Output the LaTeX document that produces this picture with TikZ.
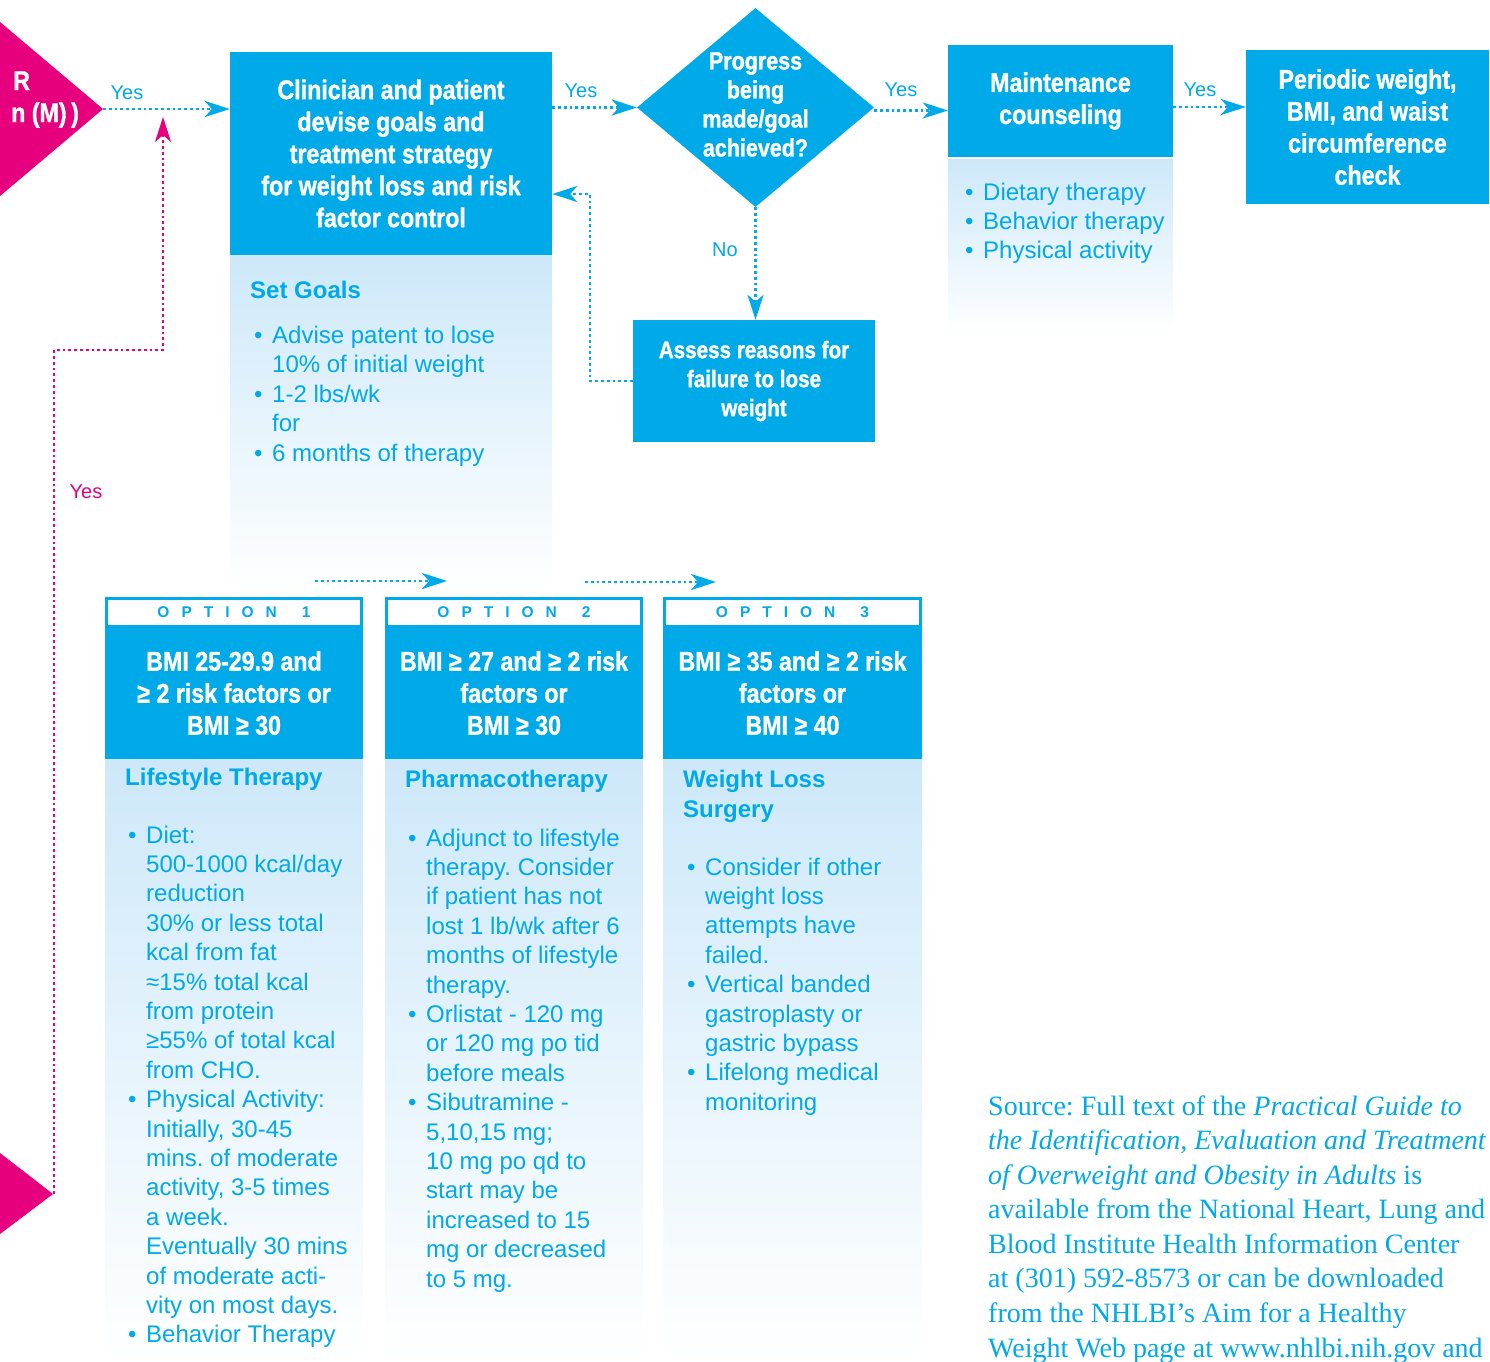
\documentclass[tikz,border=0pt]{standalone}
\usepackage{fontspec}
\setmainfont{Liberation Sans}
\newfontfamily\cond[FakeStretch=0.86,BoldFeatures={FakeBold=1.2}]{Liberation Sans}
\newfontfamily\srcfont{Liberation Serif}
\usetikzlibrary{arrows.meta,shapes.geometric}
\definecolor{cblue}{RGB}{0,169,231}
\definecolor{cpink}{RGB}{230,0,126}
\definecolor{cpanel}{RGB}{205,232,249}
\newcommand{\bul}{\makebox[18pt][l]{•}}
\newcommand{\indd}{\hspace*{18pt}}
\newcommand{\optlab}[1]{O\kern12pt P\kern12pt T\kern12pt I\kern12pt O\kern12pt N\kern25pt #1}
\frenchspacing
\begin{document}
\begin{tikzpicture}[x=1pt,y=-1pt,
  bluebox/.style={fill=cblue, inner sep=0pt, text=white, align=center, font=\cond\bfseries\fontsize{27}{32}\selectfont},
  flow/.style={draw=cblue, line width=2.8pt, dash pattern=on 2.8pt off 3pt, -{Stealth[length=25pt,width=16pt,inset=7pt]}},
  pinkflow/.style={flow, draw=cpink},
  lbl/.style={text=cblue, font=\fontsize{20}{23}\selectfont, inner sep=0pt},
  body/.style={text=cblue, font=\fontsize{24}{29.4}\selectfont, align=left, inner sep=0pt, anchor=base west},
  ttl/.style={body, font=\bfseries\fontsize{24}{30}\selectfont},
  panel/.style={top color=cpanel, bottom color=white},
  hdr/.style={draw=cblue, line width=3pt, fill=white, inner sep=0pt, text=cblue, font=\bfseries\fontsize{15.5}{18}\selectfont}
]
\useasboundingbox (0,0) rectangle (1490,1361);

% panels
\shade[panel] (230,255) rectangle (552,590);
\shade[panel] (948,159) rectangle (1173,335);
\shade[panel] (105,757) rectangle (363,1361);
\shade[panel] (385,757) rectangle (643,1361);
\shade[panel] (663,757) rectangle (922,1361);

% pink triangles
\fill[cpink] (0,22) -- (103,109) -- (0,196) -- cycle;
\coordinate (tri1) at (103,109);
\fill[cpink] (0,1153) -- (53,1194) -- (0,1234) -- cycle;
\coordinate (tri2) at (54,1194);
\node[anchor=base west, inner sep=0pt, text=white, font=\cond\bfseries\fontsize{27}{32}\selectfont] (tR) at (13,90) {R};
\node[anchor=base west, inner sep=0pt, text=white, font=\cond\bfseries\fontsize{27}{32}\selectfont] (tM) at (11,122) {n (M)\,)};

% top boxes
\node[bluebox, minimum width=322pt, minimum height=203pt] (box1) at (391,153.5)
  {Clinician and patient\\devise goals and\\treatment strategy\\for weight loss and risk\\factor control};
\node[diamond, fill=cblue, minimum width=237pt, minimum height=199pt, inner sep=0pt] (dia) at (755.5,107.5) {};
\node[text=white, align=center, inner sep=0pt, font=\cond\bfseries\fontsize{25}{29}\selectfont] (diat) at (755.5,104.5)
  {Progress\\being\\made/goal\\achieved?};
\node[bluebox, minimum width=225pt, minimum height=112pt] (maint) at (1060.5,101) {Maintenance\\counseling};
\node[bluebox, minimum width=243pt, minimum height=154pt] (per) at (1367.5,127)
  {Periodic weight,\\BMI, and waist\\circumference\\check};
\node[bluebox, minimum width=242pt, minimum height=122pt, font=\cond\bfseries\fontsize{24}{29}\selectfont] (assess) at (754,381)
  {Assess reasons for\\failure to lose\\weight};

% top connectors
\draw[flow] (tri1) -- (tri1 -| box1.west);
\node[lbl] (y1) at (127,93) {Yes};
\draw[flow] (box1.east |- dia.west) -- (dia.west);
\node[lbl] (y2) at (581,91) {Yes};
\draw[flow] ([yshift=-3pt]dia.east) -- ([yshift=-3pt]dia.east -| maint.west);
\node[lbl] (y3) at (901,90) {Yes};
\draw[flow] ([yshift=-6pt]maint.east) -- ([yshift=-6pt]maint.east -| per.west);
\node[lbl] (y4) at (1200,90) {Yes};
\draw[flow] (dia.south) -- (dia.south |- assess.north);
\node[lbl] (n1) at (725,250) {No};
\draw[flow] (assess.west) -- (590,381) |- ([yshift=-40.5pt]box1.east);

% pink connector
\draw[pinkflow] (tri2) |- (163,350) -- (163,117);
\node[lbl, text=cpink] (y5) at (86,492) {Yes};

% set goals panel text
\node[ttl] (sg) at (250,298) {Set Goals};
\node[body] (sgl) at (254,461) {\bul Advise patent to lose\\\indd 10\% of initial weight\\\bul 1-2 lbs/wk\\\indd for\\\bul 6 months of therapy};
\node[body] (mtl) at (965,258.8) {\bul Dietary therapy\\\bul Behavior therapy\\\bul Physical activity};

% option arrows
\coordinate (a1s) at (315,581);
\coordinate (a1e) at (447,581);
\coordinate (a2s) at (585,582);
\coordinate (a2e) at (716,582);
\draw[flow] (a1s) -- (a1e);
\draw[flow] (a2s) -- (a2e);

% options
\node[hdr, minimum width=255pt, minimum height=28pt] (h1) at (234,612) {\optlab{1}};
\node[hdr, minimum width=255pt, minimum height=28pt] (h2) at (514,612) {\optlab{2}};
\node[hdr, minimum width=256pt, minimum height=28pt] (h3) at (792.5,612) {\optlab{3}};
\node[bluebox, minimum width=258pt, minimum height=131pt] (o1) at (234,693) {BMI 25-29.9 and\\≥ 2 risk factors or\\BMI ≥ 30};
\node[bluebox, minimum width=258pt, minimum height=131pt] (o2) at (514,693) {BMI ≥ 27 and ≥ 2 risk\\factors or\\BMI ≥ 30};
\node[bluebox, minimum width=259pt, minimum height=131pt] (o3) at (792.5,693) {BMI ≥ 35 and ≥ 2 risk\\factors or\\BMI ≥ 40};

\node[ttl] (t1) at (125,785) {Lifestyle Therapy};
\node[body] (l1) at (128,1342.8) {\bul Diet:\\
\indd 500-1000 kcal/day\\
\indd reduction\\
\indd 30\% or less total\\
\indd kcal from fat\\
\indd ≈15\% total kcal\\
\indd from protein\\
\indd ≥55\% of total kcal\\
\indd from CHO.\\
\bul Physical Activity:\\
\indd Initially, 30-45\\
\indd mins. of moderate\\
\indd activity, 3-5 times\\
\indd a week.\\
\indd Eventually 30 mins\\
\indd of moderate acti-\\
\indd vity on most days.\\
\bul Behavior Therapy};

\node[ttl] (t2) at (405,787) {Pharmacotherapy};
\node[body] (l2) at (408,1287) {\bul Adjunct to lifestyle\\
\indd therapy. Consider\\
\indd if patient has not\\
\indd lost 1 lb/wk after 6\\
\indd months of lifestyle\\
\indd therapy.\\
\bul Orlistat - 120 mg\\
\indd or 120 mg po tid\\
\indd before meals\\
\bul Sibutramine -\\
\indd 5,10,15 mg;\\
\indd 10 mg po qd to\\
\indd start may be\\
\indd increased to 15\\
\indd mg or decreased\\
\indd to 5 mg.};

\node[ttl] (t3) at (683,817) {Weight Loss\\Surgery};
\node[body] (l3) at (687,1110.2) {\bul Consider if other\\
\indd weight loss\\
\indd attempts have\\
\indd failed.\\
\bul Vertical banded\\
\indd gastroplasty or\\
\indd gastric bypass\\
\bul Lifelong medical\\
\indd monitoring};

% source
\node[anchor=base west, inner sep=0pt, align=left, text=cblue, font=\srcfont\fontsize{28}{34.57}\selectfont] (src) at (988,1357)
{Source: Full text of the \textit{Practical Guide to}\\
\textit{the Identification, Evaluation and Treatment}\\
\textit{of Overweight and Obesity in Adults} is\\
available from the National Heart, Lung and\\
Blood Institute Health Information Center\\
at (301) 592-8573 or can be downloaded\\
from the NHLBI’s Aim for a Healthy\\
Weight Web page at www.nhlbi.nih.gov and};
\end{tikzpicture}
\end{document}
